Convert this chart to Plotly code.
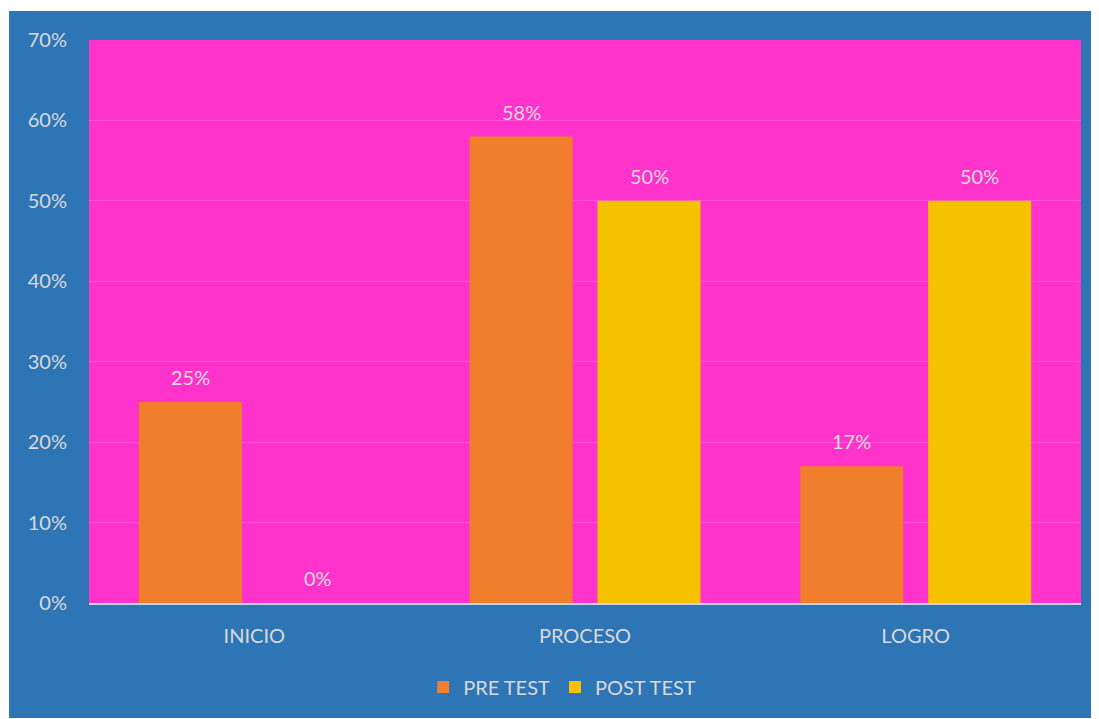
import plotly.graph_objects as go

categories = ["INICIO", "PROCESO", "LOGRO"]
pre_test = [0.25, 0.58, 0.17]
post_test = [0.00, 0.50, 0.50]
series_names = ["PRE TEST", "POST TEST"]
tick_vals = [0, 0.1, 0.2, 0.3, 0.4, 0.5, 0.6, 0.7]

TEXT = "#D9D9D9"
FONT = "Lato, 'Open Sans', sans-serif"

fig = go.Figure()
fig.add_trace(go.Bar(name=series_names[0], x=categories, y=pre_test,
                     marker=dict(color="#F07E2C", line=dict(width=0))))
fig.add_trace(go.Bar(name=series_names[1], x=categories, y=post_test,
                     marker=dict(color="#F6C200", line=dict(width=0))))

annotations = []
for vals, shift in ((pre_test, -64), (post_test, 64)):
    for c, v in zip(categories, vals):
        annotations.append(dict(x=c, y=v, xref="x", yref="y", text=f"{round(v*100)}%",
                                showarrow=False, xshift=shift, yshift=25,
                                font=dict(size=20, color=TEXT, family=FONT)))

fig.update_layout(
    width=1091, height=711,
    margin=dict(l=81, r=18, t=32, b=116),
    paper_bgcolor="white",
    plot_bgcolor="rgba(0,0,0,0)",
    barmode="group", bargap=0.226, bargroupgap=0.195,
    font=dict(family=FONT, size=20, color=TEXT),
    showlegend=True,
    legend=dict(orientation="h", x=0.477, xanchor="center", y=-0.149, yanchor="middle",
                font=dict(size=20, color=TEXT), bgcolor="rgba(0,0,0,0)", traceorder="normal"),
    annotations=annotations,
    shapes=[
        dict(type="rect", xref="paper", yref="paper", x0=-0.0806, x1=1.0141,
             y0=-0.2043, y1=1.0515, fillcolor="#2E75B6", line=dict(width=0), layer="below"),
        dict(type="rect", xref="paper", yref="paper", x0=0, x1=1, y0=0, y1=1,
             fillcolor="#FF33CC", line=dict(width=0), layer="below"),
    ],
    xaxis=dict(showgrid=False, showline=True, linecolor="#C9D3E6", linewidth=2,
               ticks="", tickfont=dict(size=20, color=TEXT), ticklabelstandoff=14),
    yaxis=dict(range=[0, 0.7], tickvals=tick_vals, tickformat=".0%",
               showgrid=True, gridcolor="#FF52D6", gridwidth=1, zeroline=False,
               showline=False, tickfont=dict(size=20, color=TEXT), ticklabelstandoff=21),
)

fig.write_html("out.html")
